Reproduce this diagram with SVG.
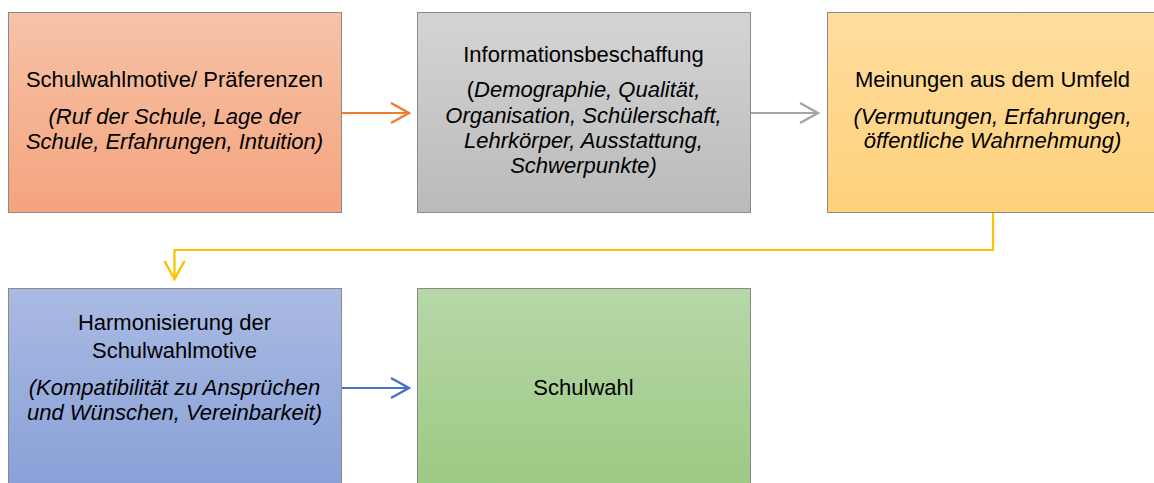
<svg xmlns="http://www.w3.org/2000/svg" width="1154" height="483" viewBox="0 0 1154 483">
<style>
.box{stroke:#8a8a8a;stroke-width:1}
.t{font-family:"Liberation Sans",Arial,sans-serif;font-size:22px;fill:#000;text-anchor:middle}
.i{font-style:italic}
.c{fill:none;stroke-width:2.2}
</style>
<defs>
<linearGradient id="g1" x1="0" y1="0" x2="0" y2="1"><stop offset="0" stop-color="#f6c2a8"/><stop offset="1" stop-color="#f4a47d"/></linearGradient>
<linearGradient id="g2" x1="0" y1="0" x2="0" y2="1"><stop offset="0" stop-color="#d4d4d4"/><stop offset="1" stop-color="#bababa"/></linearGradient>
<linearGradient id="g3" x1="0" y1="0" x2="0" y2="1"><stop offset="0" stop-color="#ffdd9f"/><stop offset="1" stop-color="#fed17a"/></linearGradient>
<linearGradient id="g4" x1="0" y1="0" x2="0" y2="1"><stop offset="0" stop-color="#aabae2"/><stop offset="1" stop-color="#88a1d8"/></linearGradient>
<linearGradient id="g5" x1="0" y1="0" x2="0" y2="1"><stop offset="0" stop-color="#b7d7a8"/><stop offset="1" stop-color="#9cc983"/></linearGradient>
<marker id="mo" markerUnits="userSpaceOnUse" viewBox="-22 -12 24 24" refX="0" refY="0" markerWidth="24" markerHeight="24" orient="auto"><path d="M-18,-10 L0,0 L-18,10" fill="none" stroke="#ed7d31" stroke-width="2.5"/></marker>
<marker id="mg" markerUnits="userSpaceOnUse" viewBox="-22 -12 24 24" refX="0" refY="0" markerWidth="24" markerHeight="24" orient="auto"><path d="M-18,-10 L0,0 L-18,10" fill="none" stroke="#a5a5a5" stroke-width="2.5"/></marker>
<marker id="my" markerUnits="userSpaceOnUse" viewBox="-22 -12 24 24" refX="0" refY="0" markerWidth="24" markerHeight="24" orient="auto"><path d="M-18,-10 L0,0 L-18,10" fill="none" stroke="#ffc000" stroke-width="2.5"/></marker>
<marker id="mb" markerUnits="userSpaceOnUse" viewBox="-22 -12 24 24" refX="0" refY="0" markerWidth="24" markerHeight="24" orient="auto"><path d="M-18,-10 L0,0 L-18,10" fill="none" stroke="#4472c4" stroke-width="2.5"/></marker>
</defs>
<rect width="1154" height="483" fill="#fff"/>
<g id="connectors">
<path class="c" d="M341,113 H409" stroke="#ed7d31" marker-end="url(#mo)"/>
<path class="c" d="M750,113 H818" stroke="#a5a5a5" marker-end="url(#mg)"/>
<path class="c" d="M993,212 V250 H174.5 V279" stroke="#ffc000" marker-end="url(#my)"/>
<path class="c" d="M341,388 H409" stroke="#4472c4" marker-end="url(#mb)"/>
</g>
<g id="node1">
<rect class="box" x="8.5" y="12.5" width="333" height="200" fill="url(#g1)"/>
<text class="t" x="174.5" y="87">Schulwahlmotive/ Präferenzen</text>
<text class="t i" x="174.5" y="124">(Ruf der Schule, Lage der</text>
<text class="t i" x="174.5" y="148.5">Schule, Erfahrungen, Intuition)</text>
</g>
<g id="node2">
<rect class="box" x="417.5" y="12.5" width="333" height="200" fill="url(#g2)"/>
<text class="t" x="583.5" y="62">Informationsbeschaffung</text>
<text class="t" x="583.5" y="97">(<tspan class="i">Demographie, Qualität,</tspan></text>
<text class="t i" x="583.5" y="122.5">Organisation, Schülerschaft,</text>
<text class="t i" x="583.5" y="148">Lehrkörper, Ausstattung,</text>
<text class="t i" x="583.5" y="173">Schwerpunkte)</text>
</g>
<g id="node3">
<rect class="box" x="827.5" y="12.5" width="333" height="200" fill="url(#g3)"/>
<text class="t" x="992.5" y="87">Meinungen aus dem Umfeld</text>
<text class="t i" x="992.5" y="123.5">(Vermutungen, Erfahrungen,</text>
<text class="t i" x="992.5" y="148">öffentliche Wahrnehmung)</text>
</g>
<g id="node4">
<rect class="box" x="8.5" y="288.5" width="333" height="200" fill="url(#g4)"/>
<text class="t" x="174.5" y="330">Harmonisierung der</text>
<text class="t" x="174.5" y="357.5">Schulwahlmotive</text>
<text class="t i" x="174.5" y="395">(Kompatibilität zu Ansprüchen</text>
<text class="t i" x="174.5" y="420">und Wünschen, Vereinbarkeit)</text>
</g>
<g id="node5">
<rect class="box" x="417.5" y="288.5" width="333" height="200" fill="url(#g5)"/>
<text class="t" x="583.5" y="395">Schulwahl</text>
</g>
</svg>
